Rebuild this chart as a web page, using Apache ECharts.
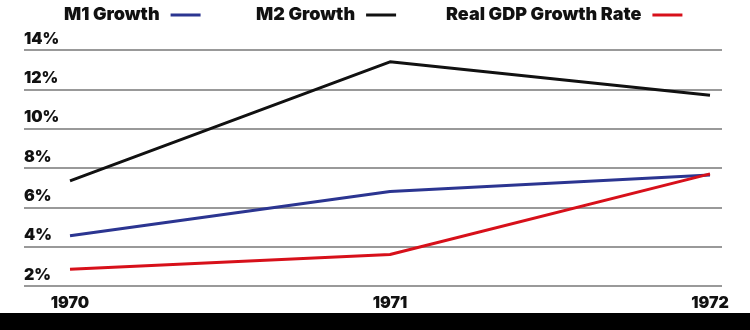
<!DOCTYPE html>
<html><head><meta charset="utf-8">
<script src="https://cdn.jsdelivr.net/npm/echarts@6/dist/echarts.min.js"></script>
<style>html,body{margin:0;padding:0;background:#fff}#c{width:750px;height:330px}</style>
</head><body><div id="c"></div>
<script>
const years = [1970, 1971, 1972];
const m1Growth = [4.55, 6.8, 7.65];
const m2Growth = [7.35, 13.4, 11.7];
const gdpGrowth = [2.85, 3.6, 7.7];
const yTicks = [2, 4, 6, 8, 10, 12, 14];

const FONT = 'Inter';
const chart = echarts.init(document.getElementById('c'));
const pairs = arr => years.map((y, i) => [y, arr[i]]);
const mk = (name, data, color) => ({
  name, type: 'line', data: pairs(data), symbol: 'none',
  lineStyle: { color, width: 3 }, itemStyle: { color }
});
const lg = (name, left) => ({
  left, top: 6, align: 'right', itemWidth: 30, itemHeight: 3, icon: 'rect', padding: 0,
  textStyle: { fontFamily: FONT, fontWeight: 900, fontSize: 18, color: '#111', padding: [0, 6, 0, 0] },
  data: [name]
});
chart.setOption({
  backgroundColor: '#fff',
  animation: false,
  textStyle: { fontFamily: FONT },
  legend: [
    lg('M1 Growth', 64),
    lg('M2 Growth', 256),
    lg('Real GDP Growth Rate', 446)
  ],
  grid: { left: 24, right: 28, top: 50, bottom: 44 },
  xAxis: {
    type: 'value', min: 1970 - 46 / 320, max: 1972 + 12 / 320,
    axisLine: { show: false }, axisTick: { show: false }, splitLine: { show: false },
    axisLabel: {
      customValues: years, formatter: v => String(Math.round(v)), margin: 9,
      fontFamily: FONT, fontWeight: 900, fontSize: 16, color: '#111'
    }
  },
  yAxis: {
    type: 'value', min: 2, max: 14, interval: 2,
    axisLine: { show: false }, axisTick: { show: false },
    splitLine: { lineStyle: { color: '#777', width: 1.5 } },
    axisLabel: {
      inside: true, margin: 0, verticalAlign: 'bottom', align: 'left', padding: [0, 0, 3, 0],
      formatter: v => v + '%', fontFamily: FONT, fontWeight: 900, fontSize: 16, color: '#111'
    }
  },
  graphic: [{ type: 'rect', left: 0, bottom: 0, shape: { width: 750, height: 17 }, style: { fill: '#000' } }],
  series: [
    mk('M1 Growth', m1Growth, '#2b3591'),
    mk('M2 Growth', m2Growth, '#111'),
    mk('Real GDP Growth Rate', gdpGrowth, '#d7101a')
  ]
});
</script></body></html>
